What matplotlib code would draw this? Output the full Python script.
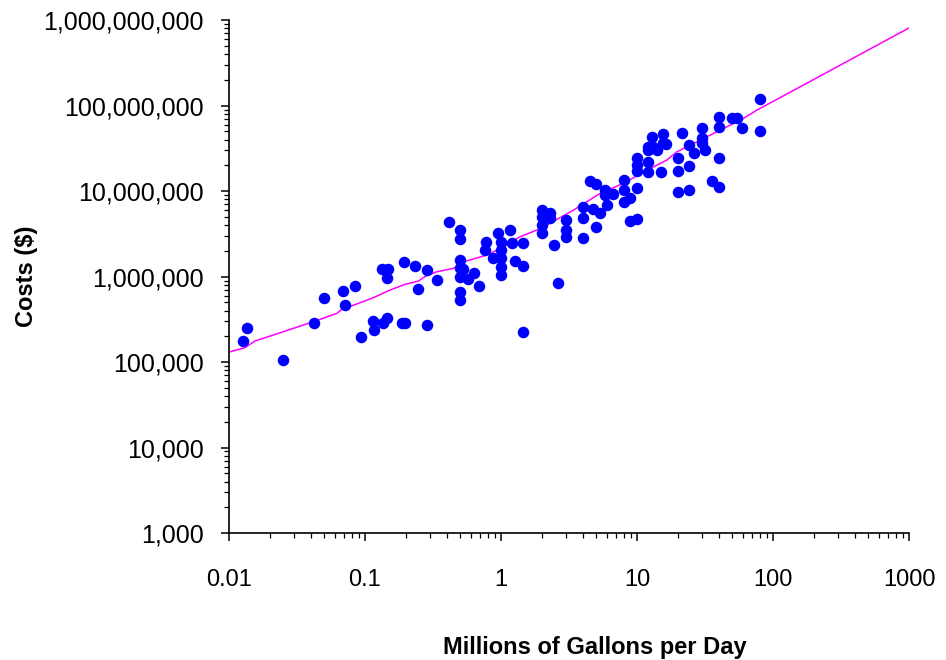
import matplotlib
matplotlib.use("Agg")
import matplotlib.pyplot as plt
from matplotlib.ticker import FixedLocator, FuncFormatter, LogLocator, NullFormatter

plt.rcParams["font.family"] = ["Liberation Sans", "DejaVu Sans"]

# plant capacity (MGD) and cost ($)
flow_mgd = [
    0.0135, 0.0127, 0.025, 0.042, 0.05, 0.069, 0.071, 0.084, 0.093, 0.115,
    0.117, 0.136, 0.146, 0.186, 0.197, 0.286, 0.133, 0.147, 0.146, 0.195,
    0.233, 0.286, 0.247, 0.417, 0.5, 0.5, 0.34, 0.5, 0.5, 0.5,
    0.53, 0.575, 0.628, 0.69, 0.5, 0.5, 1.46, 0.78, 0.76, 0.873,
    0.955, 1.0, 1.0, 1.0, 1.0, 1.0, 1.16, 1.2, 1.26, 1.46,
    1.46, 2.0, 2.0, 2.0, 2.0, 2.29, 2.3, 2.46, 2.64, 3.0,
    3.0, 3.0, 4.0, 4.0, 4.0, 4.5, 5.0, 5.0, 4.78, 5.35,
    5.8, 6.0, 6.7, 5.8, 8.0, 8.0, 8.0, 8.9, 10.0, 8.9,
    10.0, 10.0, 10.0, 10.0, 12.0, 12.0, 12.0, 15.0, 14.0, 15.6,
    15.6, 12.8, 13.0, 16.3, 20.0, 20.0, 20.0, 24.0, 24.0, 21.5,
    24.3, 26.4, 30.0, 30.0, 30.0, 31.6, 35.4, 40.3, 40.0, 40.0,
    40.0, 50.0, 54.7, 58.9, 80.0, 80.0, 12.1,
]
cost_usd = [
    248e3, 176e3, 105e3, 288e3, 565e3, 676e3, 464e3, 774e3, 198e3, 304e3,
    237e3, 288e3, 330e3, 288e3, 288e3, 271e3, 1.213e6, 1.213e6, 0.968e6, 1.466e6,
    1.337e6, 1.191e6, 714e3, 4.375e6, 3.5e6, 2.723e6, 910e3, 1.56e6, 1.247e6, 0.995e6,
    1.213e6, 948e3, 1.099e6, 785e3, 659e3, 531e3, 227e3, 2.533e6, 2.042e6, 1.645e6,
    3.2e6, 2.553e6, 2.042e6, 1.633e6, 1.302e6, 1.041e6, 3.5e6, 2.446e6, 1.518e6, 1.345e6,
    2.446e6, 6.0e6, 5.0e6, 4.0e6, 3.2e6, 5.48e6, 4.796e6, 2.336e6, 833e3, 4.581e6,
    3.5e6, 2.874e6, 6.45e6, 4.796e6, 2.86e6, 13.09e6, 11.97e6, 3.76e6, 6.11e6, 5.53e6,
    10.27e6, 6.86e6, 9.15e6, 8.98e6, 13.45e6, 10.27e6, 7.5e6, 8.22e6, 10.76e6, 4.5e6,
    4.667e6, 24.1e6, 20.14e6, 17.38e6, 22.0e6, 16.82e6, 32.43e6, 16.82e6, 30.2e6, 36.1e6,
    46.0e6, 43.15e6, 33.0e6, 35.2e6, 24.65e6, 17.27e6, 9.81e6, 19.6e6, 10.27e6, 48.1e6,
    34.5e6, 28.2e6, 55.0e6, 42.0e6, 36.1e6, 30.2e6, 13.27e6, 11.29e6, 74.0e6, 56.5e6,
    24.5e6, 70.8e6, 70.8e6, 54.1e6, 119e6, 50.3e6, 30.2e6,
]

# fitted cost curve
fit_mgd = [
    0.01, 0.0131, 0.0155, 0.0258, 0.0415, 0.062, 0.0675, 0.0893, 0.112, 0.157,
    0.197, 0.247, 0.276, 0.336, 0.446, 0.53, 0.785, 1.10, 1.38, 1.83,
    2.17, 3.41, 5.35, 7.9, 12.5, 16.5, 19.6, 38.5, 60.5, 75.9,
    158, 1000,
]
fit_cost = [
    131e3, 147e3, 176e3, 230e3, 296e3, 371e3, 413e3, 486e3, 556e3, 708e3,
    811e3, 886e3, 1.0e6, 1.138e6, 1.247e6, 1.49e6, 1.784e6, 2.336e6, 2.922e6, 3.5e6,
    4.0e6, 6.0e6, 9.4e6, 12.3e6, 18.4e6, 23.0e6, 28.8e6, 49.4e6, 70.8e6, 88.6e6,
    166e6, 813e6,
]

x_ticks = [0.01, 0.1, 1, 10, 100, 1000]
x_tick_labels = ["0.01", "0.1", "1", "10", "100", "1000"]

fig = plt.figure(figsize=(9.46, 6.6), dpi=100)
ax = fig.add_axes([0.242, 0.1924, 0.719, 0.777])

ax.plot(fit_mgd, fit_cost, color="#FF00FF", lw=1.1, zorder=2)
ax.plot(flow_mgd, cost_usd, "o", color="#0000FF", markersize=8.3,
        markeredgewidth=0, zorder=3)

ax.set_xscale("log")
ax.set_yscale("log")
ax.set_xlim(0.01, 1000)
ax.set_ylim(1e3, 1e9)

ax.xaxis.set_major_locator(FixedLocator(x_ticks))
ax.set_xticklabels(x_tick_labels)
ax.xaxis.set_minor_locator(LogLocator(base=10, subs=range(2, 10), numticks=20))
ax.xaxis.set_minor_formatter(NullFormatter())
ax.yaxis.set_major_locator(LogLocator(base=10, numticks=10))
ax.yaxis.set_major_formatter(FuncFormatter(lambda v, p: f"{v:,.0f}"))
ax.yaxis.set_minor_locator(LogLocator(base=10, subs=range(2, 10), numticks=20))
ax.yaxis.set_minor_formatter(NullFormatter())
ax.xaxis.get_offset_text().set_visible(False)
ax.yaxis.get_offset_text().set_visible(False)

for side in ("top", "right"):
    ax.spines[side].set_visible(False)
for side in ("left", "bottom"):
    ax.spines[side].set_linewidth(1.2)

ax.tick_params(axis="both", which="major", length=6, width=1.1)
ax.tick_params(axis="both", which="minor", length=3.5, width=0.9)
ax.tick_params(axis="x", which="major", pad=20, labelsize=17)
ax.tick_params(axis="y", which="major", pad=12, labelsize=18)

ax.set_ylabel("Costs ($)", fontsize=17, fontweight="bold")
ax.yaxis.set_label_coords(-0.28, 0.5)
ax.set_xlabel("Millions of Gallons per Day", fontsize=17, fontweight="bold")
ax.xaxis.set_label_coords(0.538, -0.2)

fig.savefig("out.png", dpi=100)
